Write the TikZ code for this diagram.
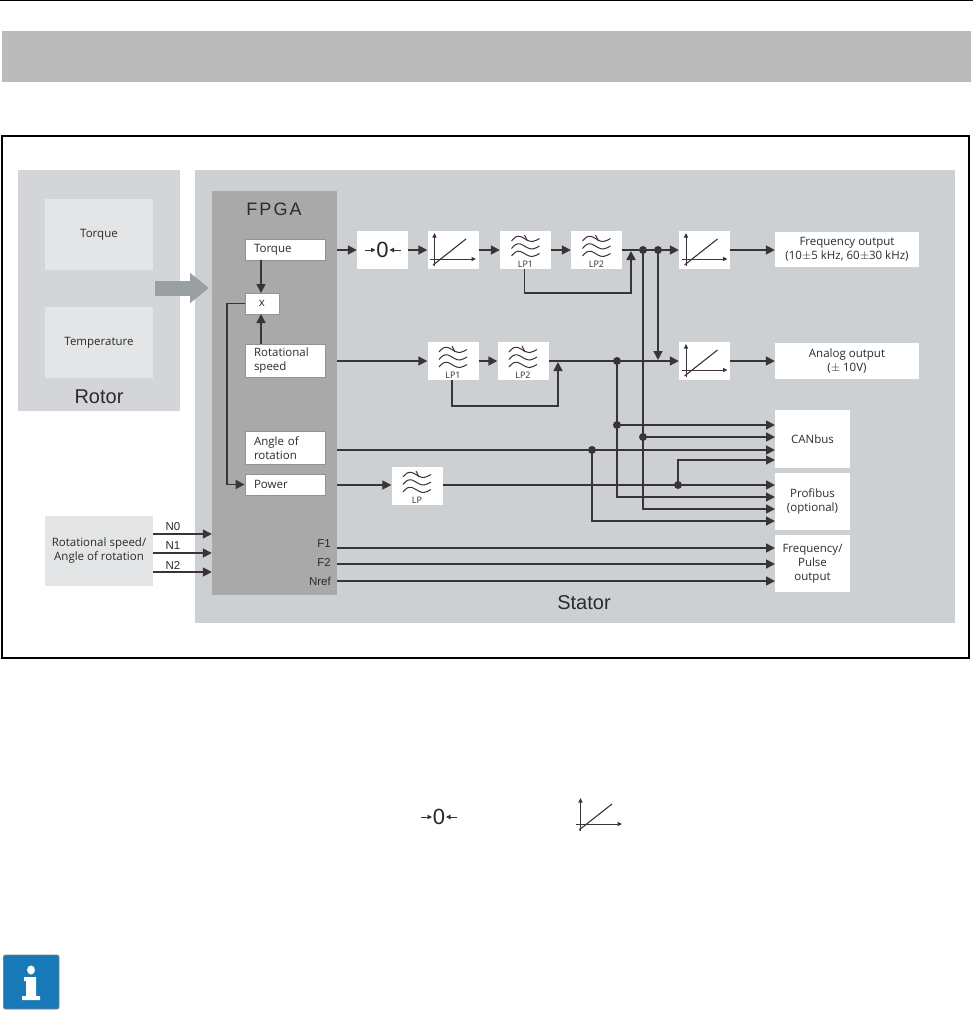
\documentclass[tikz,border=0pt]{standalone}
\usepackage{fontspec}
\setmainfont{Open Sans}
\newfontfamily\labelfont{Liberation Sans}
\usetikzlibrary{arrows.meta}
\definecolor{wirec}{HTML}{3A3337}
\definecolor{statorc}{HTML}{CDD0D3}
\definecolor{rotorc}{HTML}{D3D5D8}
\definecolor{palec}{HTML}{E3E5E7}
\definecolor{fpgac}{HTML}{A9A9A9}
\definecolor{bandc}{HTML}{BBBBBB}
\definecolor{txtc}{HTML}{2B2B2B}
\definecolor{infoc}{HTML}{1879B8}
\definecolor{bigarrowc}{HTML}{9A9FA4}
\tikzset{
  x=1pt,y=-1pt,
  wire/.style={draw=wirec,line width=1.7pt,-{Triangle[length=9pt,width=9pt]}},
  thin wire/.style={draw=wirec,line width=1.2pt,-{Triangle[length=9pt,width=9pt]}},
  dotm/.style={fill=wirec,circle,inner sep=0pt,minimum size=8pt},
  blockw/.style={fill=white,inner sep=0pt,font=\fontsize{11.5}{14}\selectfont,text=txtc,align=center},
  symb/.style={blockw,minimum width=51pt,minimum height=38pt},
  fpgabox/.style={blockw,draw=gray!85,line width=0.8pt,minimum width=80pt,align=left,text width=62pt},
  outbox/.style={blockw,minimum width=75pt,minimum height=58pt},
  pale/.style={fill=palec,inner sep=0pt,minimum width=108pt,minimum height=71pt,font=\fontsize{11.5}{14}\selectfont,text=txtc,align=center},
  sig/.style={font=\labelfont\fontsize{11.5}{13}\selectfont,text=txtc,inner sep=0pt},
  area/.style={font=\labelfont\fontsize{20}{22}\selectfont,text=txtc,inner sep=0pt},
  lpfilter/.pic={
    \foreach \d in {0,7.5,15}{
      \draw[wirec,line width=1pt,yshift=\d*-1pt]
        (-14,-9) .. controls (-11,-12.5) and (-9,-14.5) .. (-5,-13.5)
        .. controls (-1,-12) and (3,-8) .. (7,-8.5)
        .. controls (10,-9) and (12,-10.5) .. (14,-11.5);
    }
    \draw[wirec,line width=0.9pt] (-1,-15) -- (2,-9);
    \node[font=\fontsize{9}{10}\selectfont,text=txtc,inner sep=0pt] (lbl) at (0,14) {\tikzpictext};
  },
  linsym/.pic={
    \draw[wirec,line width=1pt,-{Triangle[length=4.5pt,width=4pt]}] (-18.5,16) -- (-18.5,-17);
    \draw[wirec,line width=1pt,-{Triangle[length=4.5pt,width=4pt]}] (-23,9) -- (23,9);
    \draw[wirec,line width=1.1pt] (-20,15) -- (13,-11);
  },
  zerosym/.pic={
    \node[font=\labelfont\fontsize{22}{24}\selectfont,text=black!85,inner sep=0pt] (num) at (0,0) {0};
    \draw[wirec,line width=0.9pt,-{Triangle[length=4.5pt,width=4.5pt]}] (-18,0) -- (-7,0);
    \draw[wirec,line width=0.9pt,-{Triangle[length=4.5pt,width=4.5pt]}] (18,0) -- (7,0);
  }
}
\begin{document}
\begin{tikzpicture}
\useasboundingbox (0,0) rectangle (973,1010);
\fill[white] (0,0) rectangle (973,1010);
% header
\coordinate (hl) at (0,0.7); \coordinate (hr) at (973,0.7);
\draw[black,line width=1.4pt] (hl) -- (hr);
\fill[bandc] (2,31) rectangle (971,82);
\draw[black,line width=2pt] (2,136) rectangle (968.5,657.5);
% areas
\fill[rotorc] (18,170) rectangle (180,411);
\fill[statorc] (195,170) rectangle (955,623);
\node[fill=fpgac,inner sep=0pt,minimum width=125pt,minimum height=404pt] (fpga) at (274.5,393) {};
\node[font=\labelfont\fontsize{18}{20}\selectfont\addfontfeature{LetterSpace=12},text=txtc,inner sep=0pt] (fpgat) at (274,209) {FPGA};
% rotor
\node[pale] (rt) at (99,234.5) {Torque};
\node[pale] (rtemp) at (99,342.5) {Temperature};
\node[area] (rotorl) at (99,397) {Rotor};
\node[area] (statorl) at (584,603) {Stator};
\coordinate (ba) at (155,288); \coordinate (bb) at (209,288);
\draw[bigarrowc,line width=15pt,-{Triangle[length=19pt,width=29pt]}] (ba) -- (bb);
% speed input
\node[pale,minimum height=70pt] (speedin) at (99,551) {Rotational speed/\\Angle of rotation};
\coordinate (n0) at (153,534); \coordinate (n1) at (153,553); \coordinate (n2) at (153,572);
\draw[thin wire] (n0) -- (n0 -| fpga.west);
\draw[wire] (n1) -- (n1 -| fpga.west);
\draw[wire] (n2) -- (n2 -| fpga.west);
\node[sig] (n0t) at (173,527) {N0};
\node[sig] (n1t) at (173,546) {N1};
\node[sig] (n2t) at (173,565) {N2};
% FPGA boxes
\node[fpgabox,minimum height=21pt] (torque) at (285,249.5) {Torque};
\node[blockw,draw=gray!85,line width=0.8pt,minimum width=34pt,minimum height=21pt] (mult) at (262,303.5) {x};
\node[fpgabox,minimum height=33pt] (rspeed) at (285,360.5) {Rotational\\speed};
\node[fpgabox,minimum height=33pt] (angle) at (285,448) {Angle of\\rotation};
\node[fpgabox,minimum height=21pt] (power) at (285,484.5) {Power};
\node[sig,anchor=east] (f1t) at (331,544) {F1};
\node[sig,anchor=east] (f2t) at (331,562) {F2};
\node[sig,anchor=east] (nreft) at (331,581) {Nref};
% signal blocks
\node[symb] (zero) at (382.5,250) {};
\node[symb] (lin1) at (453,250) {};
\node[symb] (a1) at (525.5,250) {};
\node[symb] (a2) at (596.5,250) {};
\node[symb] (lin2) at (704.5,250) {};
\node[blockw,minimum width=144pt,minimum height=35pt] (fout) at (847,249.5) {Frequency output\\(10$\pm$5 kHz, 60$\pm$30 kHz)};
\node[symb] (b1) at (453,361) {};
\node[symb] (b2) at (523,361) {};
\node[symb] (lin3) at (704.5,361) {};
\node[blockw,minimum width=144pt,minimum height=36pt] (aout) at (847,361) {Analog output\\($\pm$ 10V)};
\node[symb] (lp) at (417,486) {};
\node[outbox] (can) at (812.5,439) {CANbus};
\node[outbox,minimum height=57pt] (prof) at (812.5,501.5) {Profibus\\(optional)};
\node[outbox,minimum height=57pt] (fp) at (812.5,563.5) {Frequency/\\Pulse\\output};
% symbols
\pic (s0) at (zero.center) {zerosym};
\pic (s1) at (lin1.center) {linsym};
\pic (s2) at (lin2.center) {linsym};
\pic (s3) at (lin3.center) {linsym};
\pic[pic text=LP1] (s4) at (a1.center) {lpfilter};
\pic[pic text=LP2] (s5) at (a2.center) {lpfilter};
\pic[pic text=LP1] (s6) at (b1.center) {lpfilter};
\pic[pic text=LP2] (s7) at (b2.center) {lpfilter};
\pic[pic text=LP] (s8) at (lp.center) {lpfilter};
% FPGA internal wires
\coordinate (tm) at (261,260); \coordinate (tmb) at (261,293);
\coordinate (rm) at (261,344); \coordinate (rmb) at (261,314);
\draw[wire] (tm) -- (tmb);
\draw[wire] (rm) -- (rmb);
\draw[thin wire] (mult.west) -- (227,303.5) -- (227,484.5) -- (power.west);
% row 1
\draw[wire] (fpga.east |- zero) -- (zero.west);
\draw[wire] (zero.east) -- (lin1.west);
\draw[wire] (lin1.east) -- (a1.west);
\draw[wire] (a1.east) -- (a2.west);
\draw[wire] (a2.east) -- (lin2.west);
\draw[wire] (lin2.east) -- (lin2.east -| fout.west);
\coordinate (a1b) at (524.5,269); \coordinate (a1t) at (631,251);
\draw[wire] (a1b) -- (524.5,293) -- (631,293) -- (a1t);
% row 2
\draw[wire] (fpga.east |- b1) -- (b1.west);
\draw[wire] (b1.east) -- (b2.west);
\draw[wire] (b2.east) -- (lin3.west);
\draw[wire] (lin3.east) -- (lin3.east -| aout.west);
\coordinate (b1b) at (452,380); \coordinate (b1t) at (558,362);
\draw[wire] (b1b) -- (452,406) -- (558,406) -- (b1t);
% junctions
\coordinate (j1) at (643,250); \coordinate (j2) at (658,250); \coordinate (j3) at (617,361);
\coordinate (j4) at (617,425); \coordinate (j5) at (643,437); \coordinate (j6) at (592,450); \coordinate (j7) at (678,485);
\draw[wire] (j2) -- (658,360);
\draw[wire] (j3) -- (j4) -- (617,497) -- (775,497);
\draw[wire] (j4) -- (775,425);
\draw[wire] (j1) -- (j5) -- (643,509) -- (775,509);
\draw[wire] (j5) -- (775,437);
\draw[wire] (fpga.east |- j6) -- (775,450);
\draw[wire] (j6) -- (592,521) -- (775,521);
\draw[wire] (fpga.east |- j7) -- (lp.west |- j7);
\draw[wire] (lp.east |- j7) -- (775,485);
\draw[thin wire] (j7) -- (678,460) -- (775,460);
\foreach \j in {j1,j2,j3,j4,j5,j6,j7}{ \node[dotm] (d\j) at (\j) {}; }
% F outputs
\draw[wire] (fpga.east |- 0,548) -- (775,548);
\draw[wire] (fpga.east |- 0,564) -- (775,564);
\draw[wire] (fpga.east |- 0,581) -- (775,581);
% legend symbols
\pic (l0) at (439,817) {zerosym};
\pic (l1) at (599,815) {linsym};
% info icon
\draw[gray,line width=0.8pt,fill=infoc,rounded corners=2pt] (3.5,955) rectangle (59,1009);
\fill[white] (31,970) ellipse (4pt and 4.5pt);
\fill[white] (24,977) -- (36,977) -- (36,996) -- (40,996) -- (40,1000) -- (22,1000) -- (22,996) -- (26,996) -- (26,981) -- (24,981) -- cycle;
\end{tikzpicture}
\end{document}
